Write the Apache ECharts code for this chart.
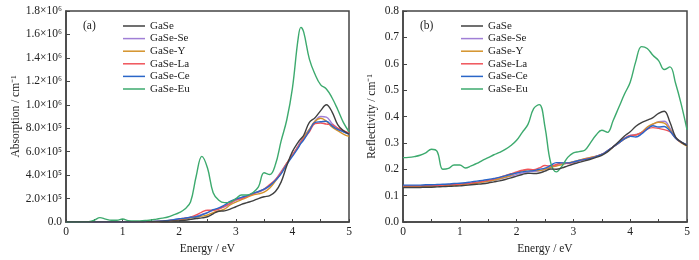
<!DOCTYPE html>
<html>
<head>
<meta charset="utf-8">
<script src="https://cdn.jsdelivr.net/npm/echarts@6/dist/echarts.min.js"></script>
<style>
  html, body { margin: 0; padding: 0; background: #fff; }
  #chart { width: 699px; height: 260px; }
</style>
</head>
<body>
<div id="chart"></div>
<script>
// series names
const names = ["GaSe", "GaSe-Se", "GaSe-Y", "GaSe-La", "GaSe-Ce", "GaSe-Eu"];
const colors = ["#404040", "#a07fd6", "#d4922a", "#f0545a", "#2a66c8", "#3daa6e"];

// (a) absorption, values in units of 1e5 cm^-1
const energyA = [0, 0.1, 0.2, 0.3, 0.4, 0.5, 0.6, 0.7, 0.8, 0.9,
  1.0, 1.1, 1.2, 1.3, 1.4, 1.5, 1.6, 1.7, 1.8, 1.9,
  2.0, 2.1, 2.2, 2.3, 2.4, 2.5, 2.6, 2.7, 2.8, 2.9,
  3.0, 3.1, 3.2, 3.3, 3.4, 3.5, 3.6, 3.7, 3.8, 3.9,
  4.0, 4.1, 4.15,
  4.2, 4.3, 4.4, 4.5, 4.6, 4.7, 4.8, 4.9, 5.0];
const absGaSe = [0, 0, 0, 0, 0, 0, 0, 0, 0, 0,
  0, 0, 0, 0, 0.01, 0.02, 0.03, 0.05, 0.07, 0.08,
  0.1, 0.15, 0.22, 0.3, 0.35, 0.45, 0.7, 0.92, 0.95, 1.1,
  1.3, 1.5, 1.65, 1.8, 2.0, 2.15, 2.25, 2.6, 3.4, 4.8,
  6.0, 6.8, 7.1,
  7.4, 8.5, 8.9, 9.5, 10.0, 9.4, 8.3, 7.8, 7.5];
const absSe = [0, 0, 0, 0, 0, 0, 0, 0, 0, 0,
  0, 0, 0, 0.01, 0.02, 0.03, 0.04, 0.06, 0.1, 0.15,
  0.22, 0.3, 0.4, 0.5, 0.65, 0.8, 1.0, 1.15, 1.3, 1.55,
  1.85, 2.0, 2.2, 2.4, 2.55, 2.75, 3.1, 3.6, 4.3, 5.0,
  5.7, 6.5, 6.9,
  7.3, 7.9, 8.6, 9.0, 8.95, 8.4, 8.0, 7.7, 7.5];
const absY = [0, 0, 0, 0, 0, 0, 0, 0, 0, 0,
  0, 0, 0, 0.01, 0.02, 0.03, 0.04, 0.05, 0.08, 0.12,
  0.18, 0.25, 0.35, 0.42, 0.5, 0.6, 0.8, 0.95, 1.1, 1.45,
  1.7, 1.9, 2.1, 2.3, 2.4, 2.55, 2.9, 3.5, 4.2, 5.0,
  5.7, 6.4, 6.8,
  7.2, 7.9, 8.6, 8.85, 8.6, 8.1, 7.8, 7.5, 7.3];
const absLa = [0, 0, 0, 0, 0, 0, 0, 0, 0, 0,
  0, 0, 0, 0.01, 0.02, 0.03, 0.05, 0.07, 0.12, 0.18,
  0.25, 0.32, 0.42, 0.6, 0.85, 1.0, 1.0, 1.1, 1.35, 1.6,
  1.9, 2.0, 2.2, 2.4, 2.6, 2.8, 3.2, 3.6, 4.2, 5.0,
  5.7, 6.4, 6.8,
  7.1, 7.7, 8.4, 8.45, 8.35, 8.3, 8.0, 7.8, 7.6];
const absCe = [0, 0, 0, 0, 0, 0, 0, 0, 0, 0,
  0, 0, 0, 0.01, 0.02, 0.04, 0.06, 0.09, 0.13, 0.2,
  0.28, 0.33, 0.4, 0.45, 0.6, 0.8, 1.05, 1.2, 1.45, 1.75,
  1.95, 2.1, 2.25, 2.45, 2.6, 2.8, 3.1, 3.55, 4.1, 4.9,
  5.6, 6.3, 6.7,
  7.0, 7.8, 8.5, 8.55, 8.6, 8.2, 7.9, 7.7, 7.5];
const absEu = [0, 0, 0, 0.01, 0.03, 0.15, 0.37, 0.25, 0.15, 0.15,
  0.25, 0.12, 0.08, 0.1, 0.13, 0.17, 0.25, 0.33, 0.43, 0.6,
  0.8, 1.1, 1.7, 3.9, 5.6, 4.6, 2.5, 1.85, 1.65, 1.7,
  2.0, 2.3, 2.3, 2.5, 3.0, 4.2, 4.05, 4.9, 6.9, 8.7,
  11.4, 15.6, 16.6,
  16.2, 13.9, 12.6, 11.7, 11.35, 10.6, 9.6, 8.5, 7.7];
const absTicks = ["0.0", "2.0×10⁵", "4.0×10⁵", "6.0×10⁵", "8.0×10⁵",
  "1.0×10⁶", "1.2×10⁶", "1.4×10⁶", "1.6×10⁶", "1.8×10⁶"];

// (b) reflectivity
const energyB = [0, 0.1, 0.2, 0.3, 0.4, 0.5, 0.6, 0.7, 0.8, 0.9,
  1.0, 1.1, 1.2, 1.3, 1.4, 1.5, 1.6, 1.7, 1.8, 1.9,
  2.0, 2.1, 2.2, 2.3, 2.4, 2.5, 2.6, 2.7, 2.8, 2.9,
  3.0, 3.1, 3.2, 3.3, 3.4, 3.5, 3.6, 3.7, 3.8, 3.9,
  4.0, 4.1, 4.2, 4.3, 4.4, 4.5, 4.6, 4.7, 4.8, 4.9, 5.0];
const refGaSe = [.131, .131, .131, .131, .132, .132, .133, .134, .135, .136,
  .137, .139, .141, .143, .145, .148, .152, .156, .161, .167,
  .174, .18, .185, .184, .186, .193, .201, .2, .205, .213,
  .22, .226, .232, .238, .245, .253, .266, .285, .305, .326,
  .342, .363, .377, .386, .396, .412, .42, .378, .322, .303, .29];
const refSe = [.136, .136, .136, .136, .137, .137, .138, .139, .14, .141,
  .142, .144, .146, .149, .152, .155, .159, .163, .168, .174,
  .18, .186, .19, .192, .194, .2, .208, .214, .219, .223,
  .227, .233, .239, .244, .25, .257, .27, .285, .302, .318,
  .328, .332, .34, .358, .37, .38, .382, .356, .32, .302, .29];
const refY = [.134, .134, .134, .134, .135, .135, .136, .137, .138, .139,
  .141, .143, .145, .148, .151, .155, .159, .164, .17, .177,
  .187, .194, .198, .196, .195, .2, .207, .212, .218, .224,
  .229, .234, .24, .245, .25, .256, .268, .284, .3, .315,
  .325, .33, .34, .36, .372, .378, .375, .35, .318, .3, .288];
const refLa = [.137, .137, .137, .137, .138, .138, .139, .14, .141, .142,
  .144, .146, .148, .151, .154, .158, .163, .169, .176, .183,
  .19, .196, .2, .198, .205, .214, .212, .218, .224, .222,
  .226, .232, .238, .242, .248, .256, .27, .285, .3, .316,
  .328, .33, .338, .352, .358, .355, .35, .342, .318, .302, .292];
const refCe = [.14, .14, .14, .14, .141, .141, .142, .143, .144, .146,
  .147, .149, .152, .155, .158, .161, .165, .169, .175, .181,
  .186, .19, .193, .195, .2, .204, .215, .225, .224, .224,
  .228, .233, .237, .241, .248, .256, .27, .285, .3, .315,
  .325, .322, .334, .352, .365, .36, .362, .345, .318, .303, .292];
const refEu = [.244, .245, .248, .253, .262, .276, .268, .2, .203, .216,
  .216, .205, .213, .222, .234, .244, .255, .264, .275, .29,
  .31, .34, .37, .43, .445, .36, .225, .19, .212, .245,
  .262, .267, .272, .3, .33, .348, .34, .385, .435, .485,
  .53, .61, .665, .658, .632, .612, .578, .588, .525, .445, .35];
const refTicks = ["0.0", "0.1", "0.2", "0.3", "0.4", "0.5", "0.6", "0.7", "0.8"];

const absSeries = [absGaSe, absSe, absY, absLa, absCe, absEu];
const refSeries = [refGaSe, refSe, refY, refLa, refCe, refEu];

const font = "Liberation Serif";
const axisColor = "#444";

function xAxis(gridIndex) {
  return {
    type: "value", gridIndex, min: 0, max: 5, interval: 1,
    name: "Energy / eV", nameLocation: "middle", nameGap: 18,
    nameTextStyle: { fontFamily: font, fontSize: 11.5, color: "#222" },
    axisLine: { lineStyle: { color: axisColor, width: 1.5 } },
    axisTick: { inside: true, length: 3, lineStyle: { color: axisColor } },
    minorTick: { show: true, splitNumber: 2, length: 3, lineStyle: { color: axisColor } },
    axisLabel: { fontFamily: font, fontSize: 11.5, color: "#222", margin: 4 },
    splitLine: { show: false }
  };
}

function yAxis(gridIndex, max, interval, ticks, name, nameGap) {
  return {
    type: "value", gridIndex, min: 0, max, interval,
    name, nameLocation: "middle", nameGap,
    nameTextStyle: { fontFamily: font, fontSize: 11.5, color: "#222" },
    axisLine: { show: true, lineStyle: { color: axisColor, width: 1.5 } },
    axisTick: { inside: true, length: 4, lineStyle: { color: axisColor } },
    axisLabel: {
      fontFamily: font, fontSize: 11.5, color: "#222", margin: 4,
      formatter: v => ticks[Math.round(v / interval)]
    },
    splitLine: { show: false }
  };
}

function makeSeries(energy, list, axisIndex) {
  return list.map((vals, i) => ({
    name: names[i], type: "line", xAxisIndex: axisIndex, yAxisIndex: axisIndex,
    symbol: "none", smooth: 0.4,
    lineStyle: { width: 1.4, color: colors[i] },
    itemStyle: { color: colors[i] },
    z: i === 0 ? 3 : 2,
    data: energy.map((e, k) => [e, vals[k]])
  }));
}

function legend(left) {
  return {
    data: names, orient: "vertical", left, top: 20, padding: 0,
    itemWidth: 22, itemHeight: 8, itemGap: 0.6,
    textStyle: { fontFamily: font, fontSize: 11, color: "#222", lineHeight: 12 },
    icon: "path://M0,0L22,0L22,1.5L0,1.5Z",
    selectedMode: false
  };
}

const chart = echarts.init(document.getElementById("chart"), null, { renderer: "canvas" });
chart.setOption({
  animation: false,
  backgroundColor: "#fff",
  title: [
    { text: "(a)", left: 83, top: 20, padding: 0, textStyle: { fontFamily: font, fontSize: 11.5, fontWeight: "normal", color: "#222" } },
    { text: "(b)", left: 420, top: 20, padding: 0, textStyle: { fontFamily: font, fontSize: 11.5, fontWeight: "normal", color: "#222" } }
  ],
  legend: [legend(123), legend(461)],
  grid: [
    { left: 66, right: 350, top: 11, bottom: 38, show: true, borderColor: axisColor, borderWidth: 1.5 },
    { left: 403, right: 12, top: 11, bottom: 38, show: true, borderColor: axisColor, borderWidth: 1.5 }
  ],
  xAxis: [xAxis(0), xAxis(1)],
  yAxis: [
    yAxis(0, 18, 2, absTicks, "Absorption / cm⁻¹", 43),
    yAxis(1, 0.8, 0.1, refTicks, "Reflectivity / cm⁻¹", 25)
  ],
  series: makeSeries(energyA, absSeries, 0).concat(makeSeries(energyB, refSeries, 1))
});
</script>
</body>
</html>
